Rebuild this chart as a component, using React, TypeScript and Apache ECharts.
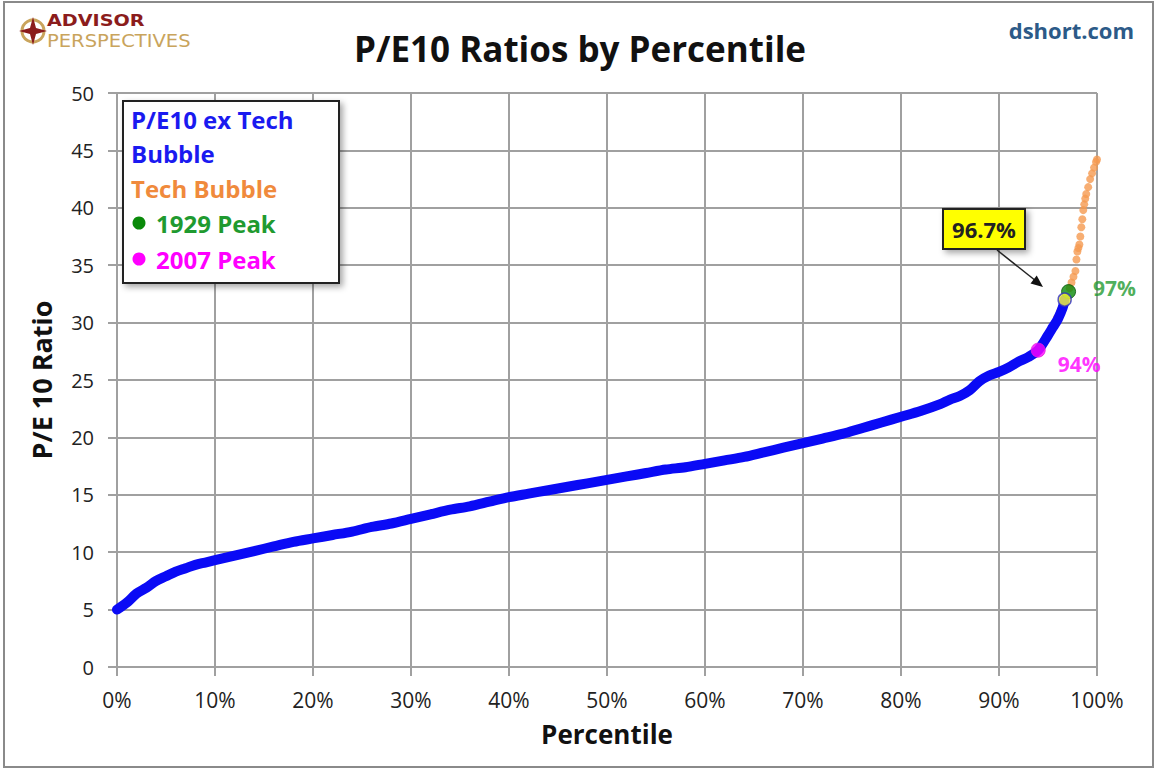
import React, { useEffect, useRef } from "react";
import * as echarts from "echarts";

// ---- data ----
const bluePct = [0,1,2,3,4,5,6,7,8,9,10,12,14,16,18,20,22,24,26,28,30,32,34,36,38,40,42,44,46,48,50,52,54,56,58,60,62,64,66,68,70,72,74,76,78,80,82,84,85,86,87,88,89,90,91,92,93,94,95,95.5,96,96.5,96.7];
const bluePE = [5.0,5.6,6.4,6.9,7.5,7.9,8.3,8.6,8.9,9.1,9.3,9.7,10.1,10.5,10.9,11.2,11.5,11.8,12.2,12.5,12.9,13.3,13.7,14.0,14.4,14.8,15.1,15.4,15.7,16.0,16.3,16.6,16.9,17.2,17.4,17.7,18.0,18.3,18.7,19.1,19.5,19.9,20.3,20.8,21.3,21.8,22.3,22.9,23.3,23.6,24.1,24.9,25.4,25.7,26.1,26.6,27.0,27.6,28.9,29.6,30.3,31.3,32.0];
const techPct = [95.9,96.2,96.4,96.8,97.2,97.4,97.6,97.8,97.9,98.0,98.1,98.2,98.3,98.4,98.5,98.6,98.7,98.8,98.9,99.1,99.3,99.5,99.7,99.9,100];
const techPE = [30.4,30.9,31.3,32.2,33.0,33.5,34.0,34.5,35.5,36.2,36.5,36.8,37.5,38.3,39.0,39.8,40.3,40.8,41.2,41.8,42.5,43.0,43.5,44.0,44.2];
const peak1929 = [97.1, 32.7];
const peak2007 = [94.0, 27.6];
const current = [96.7, 32.0];
const legendLines = ["P/E10 ex Tech", "Bubble", "Tech Bubble", "1929 Peak", "2007 Peak"];

const FONT = "'Open Sans', Lato, sans-serif";

export default function App() {
  const ref = useRef<HTMLDivElement>(null);
  useEffect(() => {
    if (!ref.current) return;
    const chart = echarts.init(ref.current, undefined, { renderer: "svg" });
    const gridColor = "#a0a0a0";
    const option: any = {
      animation: false,
      backgroundColor: "#ffffff",
      textStyle: { fontFamily: FONT },
      grid: { left: 117, right: 60, top: 93, bottom: 104, containLabel: false },
      xAxis: {
        type: "value", min: 0, max: 100, interval: 10,
        name: "Percentile", nameLocation: "middle", nameGap: 54,
        nameTextStyle: { fontFamily: FONT, fontWeight: "bold", fontSize: 26, color: "#111" },
        axisLine: { show: true, lineStyle: { color: gridColor, width: 2 } },
        axisTick: { show: true, length: 9, lineStyle: { color: gridColor, width: 2 } },
        axisLabel: { formatter: (v: number) => v + "%", fontSize: 21, color: "#222", margin: 22, fontFamily: FONT },
        splitLine: { show: true, lineStyle: { color: gridColor, width: 2 } },
      },
      yAxis: {
        type: "value", min: 0, max: 50, interval: 5,
        name: "P/E 10 Ratio", nameLocation: "middle", nameGap: 62, nameRotate: 90,
        nameTextStyle: { fontFamily: FONT, fontWeight: "bold", fontSize: 27, color: "#111" },
        axisLine: { show: true, lineStyle: { color: gridColor, width: 2 } },
        axisTick: { show: true, length: 9, lineStyle: { color: gridColor, width: 2 } },
        axisLabel: { fontSize: 20, color: "#222", margin: 23, fontFamily: FONT },
        splitLine: { show: true, lineStyle: { color: gridColor, width: 2 } },
      },
      series: [
        {
          type: "scatter", name: "Tech Bubble",
          data: techPct.map((p, i) => [p, techPE[i]]),
          symbolSize: 8, itemStyle: { color: "#f59a50" }, z: 2,
        },
        {
          type: "line", name: "P/E10 ex Tech Bubble",
          data: bluePct.map((p, i) => [p, bluePE[i]]),
          showSymbol: false, smooth: 0.3,
          lineStyle: { color: "#0a0af5", width: 10, cap: "round", join: "round" }, z: 3,
        },
        {
          type: "scatter", name: "2007 Peak", data: [peak2007], symbolSize: 14,
          itemStyle: { color: "#ff00ff", borderColor: "#e020e0", borderWidth: 1 }, z: 5,
          label: { show: true, formatter: "94%", position: [27, 11], color: "#ff00ff", fontSize: 21, fontWeight: "bold", fontFamily: FONT },
        },
        {
          type: "scatter", name: "1929 Peak", data: [peak1929], symbolSize: 14,
          itemStyle: { color: "#0a8a0a", borderColor: "#085508", borderWidth: 1 }, z: 5,
          label: { show: true, formatter: "97%", position: [32, -7], color: "#1f9a30", fontSize: 21, fontWeight: "bold", fontFamily: FONT },
        },
        {
          type: "scatter", name: "Current", data: [current], symbolSize: 13,
          itemStyle: { color: "#ffff33", borderColor: "#3030c0", borderWidth: 1.5 }, z: 6,
        },
      ],
      graphic: [
        // outer frame
        { type: "rect", shape: { x: 4, y: 2, width: 1149, height: 765 }, style: { fill: "none", stroke: "#8a8a8a", lineWidth: 2 }, z: 100 },
        // logo
        { type: "circle", shape: { cx: 33, cy: 31, r: 11 }, style: { fill: "none", stroke: "#c9a45c", lineWidth: 3 }, z: 100 },
        { type: "polygon", shape: { points: [[33, 17], [36, 28], [47, 31], [36, 34], [33, 45], [30, 34], [19, 31], [30, 28]] }, style: { fill: "#8b1c1c" }, z: 101 },
        { type: "text", x: 47, y: 21, scaleX: 1.2, z: 100, style: { text: "ADVISOR", font: "bold 16px 'DejaVu Sans', sans-serif", fill: "#8b1c1c", textVerticalAlign: "middle" } },
        { type: "text", x: 47, y: 41, scaleX: 1.15, z: 100, style: { text: "PERSPECTIVES", font: "17px 'DejaVu Sans', sans-serif", fill: "#c9a45c", textVerticalAlign: "middle" } },
        // title
        { type: "text", x: 580, y: 48, style: { text: "P/E10 Ratios by Percentile", font: "bold 35px " + FONT, fill: "#111", textAlign: "center", textVerticalAlign: "middle" }, z: 100 },
        { type: "text", x: 1134, y: 30, style: { text: "dshort.com", font: "bold 22px " + FONT, fill: "#2c5a88", textAlign: "right", textVerticalAlign: "middle" }, z: 100 },
        // legend box
        { type: "rect", shape: { x: 123, y: 101, width: 216, height: 182 }, style: { fill: "#ffffff", stroke: "#222", lineWidth: 2, shadowBlur: 6, shadowOffsetX: 3, shadowOffsetY: 3, shadowColor: "rgba(0,0,0,0.35)" }, z: 90 },
        { type: "text", x: 131, y: 119, style: { text: legendLines[0], font: "bold 24px " + FONT, fill: "#1a1af0", textVerticalAlign: "middle" }, z: 91 },
        { type: "text", x: 131, y: 153, style: { text: legendLines[1], font: "bold 24px " + FONT, fill: "#1a1af0", textVerticalAlign: "middle" }, z: 91 },
        { type: "text", x: 131, y: 188, style: { text: legendLines[2], font: "bold 24px " + FONT, fill: "#f08a3c", textVerticalAlign: "middle" }, z: 91 },
        { type: "circle", shape: { cx: 139, cy: 223, r: 6.5 }, style: { fill: "#0a8a0a" }, z: 91 },
        { type: "text", x: 156, y: 223, style: { text: legendLines[3], font: "bold 24px " + FONT, fill: "#1f9a30", textVerticalAlign: "middle" }, z: 91 },
        { type: "circle", shape: { cx: 139, cy: 259, r: 6.5 }, style: { fill: "#ff00ff" }, z: 91 },
        { type: "text", x: 156, y: 259, style: { text: legendLines[4], font: "bold 24px " + FONT, fill: "#ff00ff", textVerticalAlign: "middle" }, z: 91 },
        // callout
        { type: "rect", shape: { x: 943, y: 209, width: 82, height: 40 }, style: { fill: "#ffff00", stroke: "#222", lineWidth: 2, shadowBlur: 6, shadowOffsetX: 3, shadowOffsetY: 3, shadowColor: "rgba(0,0,0,0.35)" }, z: 90 },
        { type: "text", x: 984, y: 229, style: { text: "96.7%", font: "bold 22px " + FONT, fill: "#222", textAlign: "center", textVerticalAlign: "middle" }, z: 91 },
        { type: "line", shape: { x1: 997, y1: 250, x2: 1036, y2: 281 }, style: { stroke: "#222", lineWidth: 1.5 }, z: 91 },
        { type: "polygon", shape: { points: [[1043, 287], [1030.5, 283.4], [1036.7, 275.6]] }, style: { fill: "#111" }, z: 91 },
      ],
    };
    chart.setOption(option);
    return () => chart.dispose();
  }, []);
  return <div ref={ref} style={{ position: "fixed", left: 0, top: 0, width: 1157, height: 771 }} />;
}
